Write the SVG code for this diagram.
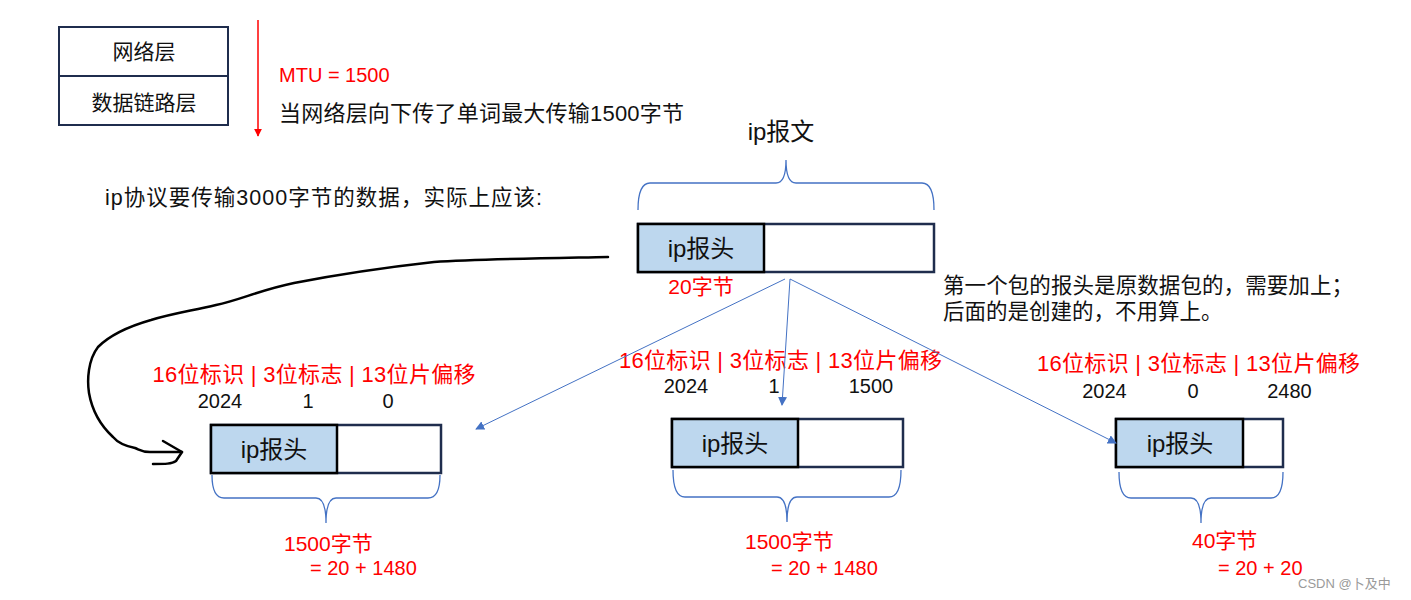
<svg xmlns="http://www.w3.org/2000/svg" width="1411" height="600" viewBox="0 0 1411 600">
<defs>
<style>
text{font-family:'Liberation Sans','Noto Sans CJK SC',sans-serif;fill:#111}
.red{fill:#FF0000}
.hdr{fill:#BDD7EE;stroke:#000;stroke-width:2.5}
.box{fill:#fff;stroke:#1F2D4D;stroke-width:2.5}
.brace{fill:none;stroke:#4472C4;stroke-width:1.3}
.blue{fill:none;stroke:#4472C4;stroke-width:1}
.mid{text-anchor:middle}
</style>
<marker id="ab" viewBox="0 0 10 10" refX="9" refY="5" markerWidth="9" markerHeight="9" markerUnits="userSpaceOnUse" orient="auto">
<path d="M0,0 L10,5 L0,10 Z" fill="#4472C4"/>
</marker>
<marker id="ar" viewBox="0 0 10 10" refX="9" refY="5" markerWidth="8" markerHeight="8" markerUnits="userSpaceOnUse" orient="auto">
<path d="M0,0 L10,5 L0,10 Z" fill="#FF0000"/>
</marker>
</defs>
<rect width="1411" height="600" fill="#fff"/>

<g id="layers">
<rect x="59" y="27" width="169" height="98" fill="#fff" stroke="#1F2D4D" stroke-width="2"/>
<line x1="59" y1="76" x2="228" y2="76" stroke="#1F2D4D" stroke-width="2"/>
<text class="mid" x="144" y="59" font-size="21">网络层</text>
<text class="mid" x="144" y="110" font-size="21">数据链路层</text>
</g>

<g id="mtu">
<line x1="258" y1="20" x2="258" y2="136" stroke="#FF0000" stroke-width="1.5" marker-end="url(#ar)"/>
<text class="red" x="279" y="82" font-size="20">MTU = 1500</text>
<text x="279" y="121" font-size="22" textLength="405">当网络层向下传了单词最大传输1500字节</text>
</g>

<g id="intro">
<text x="105" y="205" font-size="21.5" textLength="437">ip协议要传输3000字节的数据，实际上应该:</text>
</g>

<g id="original">
<text class="mid" x="781" y="140" font-size="24">ip报文</text>
<path class="brace" d="M638,210 Q638,183 650,183 L776,183 Q786,183 786,160 Q786,183 796,183 L922,183 Q934,183 934,210"/>
<rect class="box" x="638" y="224" width="296" height="48"/>
<rect class="hdr" x="638" y="224" width="126" height="48"/>
<text class="mid" x="701" y="257" font-size="24">ip报头</text>
<text class="red mid" x="701" y="294" font-size="21">20字节</text>
</g>

<g id="note">
<text x="943" y="293" font-size="21.5" textLength="410">第一个包的报头是原数据包的，需要加上；</text>
<text x="943" y="319" font-size="21.5">后面的是创建的，不用算上。</text>
</g>

<g id="frag1">
<text class="red mid" x="314" y="382" font-size="22" textLength="323">16位标识 | 3位标志 | 13位片偏移</text>
<text class="mid" x="220" y="408" font-size="20">2024</text>
<text class="mid" x="308" y="408" font-size="20">1</text>
<text class="mid" x="388" y="408" font-size="20">0</text>
<rect class="box" x="211" y="425" width="230" height="48"/>
<rect class="hdr" x="211" y="425" width="126" height="48"/>
<text class="mid" x="274" y="458" font-size="24">ip报头</text>
<path class="brace" d="M212,475 Q212,498 224,498 L316,498 Q326,498 326,523 Q326,498 336,498 L428,498 Q440,498 440,475"/>
<text class="red" x="284" y="551" font-size="21">1500字节</text>
<text class="red" x="310" y="575" font-size="20">= 20 + 1480</text>
</g>

<g id="frag2">
<text class="red mid" x="780.5" y="368" font-size="22" textLength="323">16位标识 | 3位标志 | 13位片偏移</text>
<text class="mid" x="686" y="393" font-size="20">2024</text>
<text class="mid" x="774" y="393" font-size="20">1</text>
<text class="mid" x="871" y="393" font-size="20">1500</text>
<rect class="box" x="672" y="419" width="231" height="48"/>
<rect class="hdr" x="672" y="419" width="126" height="48"/>
<text class="mid" x="735" y="452" font-size="24">ip报头</text>
<path class="brace" d="M673,470 Q673,497 685,497 L777,497 Q787,497 787,522 Q787,497 797,497 L889,497 Q901,497 901,470"/>
<text class="red" x="745" y="549" font-size="21">1500字节</text>
<text class="red" x="771" y="575" font-size="20">= 20 + 1480</text>
</g>

<g id="frag3">
<text class="red mid" x="1198.5" y="371" font-size="22" textLength="323">16位标识 | 3位标志 | 13位片偏移</text>
<text class="mid" x="1104.5" y="398" font-size="20">2024</text>
<text class="mid" x="1193" y="398" font-size="20">0</text>
<text class="mid" x="1289.5" y="398" font-size="20">2480</text>
<rect class="box" x="1116" y="419" width="167" height="48"/>
<rect class="hdr" x="1116" y="419" width="127" height="48"/>
<text class="mid" x="1180" y="452" font-size="24">ip报头</text>
<path class="brace" d="M1119,472 Q1119,498 1131,498 L1191,498 Q1201,498 1201,523 Q1201,498 1211,498 L1271,498 Q1283,498 1283,472"/>
<text class="red" x="1192" y="548" font-size="21">40字节</text>
<text class="red" x="1218" y="575" font-size="20">= 20 + 20</text>
</g>

<g id="connectors">
<line class="blue" x1="785" y1="279" x2="476" y2="429" marker-end="url(#ab)"/>
<line class="blue" x1="790" y1="279" x2="782" y2="405" marker-end="url(#ab)"/>
<line class="blue" x1="790" y1="279" x2="1116" y2="443" marker-end="url(#ab)"/>
<path d="M608,257 C560,258 480,259 434,262 C380,268 330,276 294,283 C260,290 240,300 216,305 C190,311 170,314 151,320 C130,326 110,335 98,347 C88,360 87,380 89,393 C92,410 100,425 113,437 C118,443 125,446 135,448 C140,450 142,452 150,452 L182,452" fill="none" stroke="#000" stroke-width="2.5" stroke-linecap="round" stroke-linejoin="round"/>
<path d="M163,441 L182,452 L176,461 C172,464 165,464 153,464" fill="none" stroke="#000" stroke-width="2.5" stroke-linecap="round" stroke-linejoin="round"/>
</g>

<text x="1298" y="588" font-size="13" style="fill:#9a9a9a">CSDN @卜及中</text>
</svg>
